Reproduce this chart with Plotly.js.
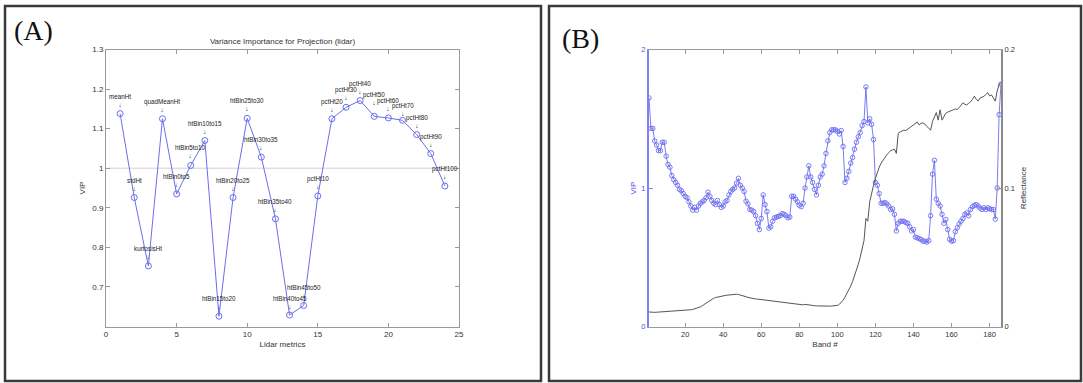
<!DOCTYPE html>
<html>
<head>
<meta charset="utf-8">
<script src="https://cdn.plot.ly/plotly-3.0.1.min.js"></script>
<style>html,body{margin:0;padding:0;background:#fff}#chart{width:1083px;height:383px}</style>
</head>
<body>
<div id="chart"></div>
<script>
// ---------- Panel (A): lidar metrics ----------
const lidarMetrics = ['meanHt','stdHt','kurtosisHt','quadMeanHt','htBin0to5','htBin5to10','htBin10to15','htBin15to20','htBin20to25','htBin25to30','htBin30to35','htBin35to40','htBin40to45','htBin45to50','pctHt10','pctHt20','pctHt30','pctHt40','pctHt50','pctHt60','pctHt70','pctHt80','pctHt90','pctHt100'];
const lidarIndex = [1,2,3,4,5,6,7,8,9,10,11,12,13,14,15,16,17,18,19,20,21,22,23,24];
const lidarVIP = [1.138,0.926,0.753,1.125,0.935,1.007,1.070,0.626,0.926,1.126,1.028,0.872,0.629,0.653,0.930,1.125,1.154,1.171,1.131,1.127,1.121,1.085,1.037,0.955];
const vipThreshold = 1;
const lidarXTicks = [0,5,10,15,20,25];
const lidarYTicks = [0.7,0.8,0.9,1.0,1.1,1.2,1.3];
const lidarYTickText = ['0.7','0.8','0.9','1','1.1','1.2','1.3'];

// ---------- Panel (B): hyperspectral bands ----------
const bands = [1,2,3,4,5,6,7,8,9,10,11,12,13,14,15,16,17,18,19,20,21,22,23,24,25,26,27,28,29,30,
31,32,33,34,35,36,37,38,39,40,41,42,43,44,45,46,47,48,49,50,51,52,53,54,55,56,57,58,59,60,
61,62,63,64,65,66,67,68,69,70,71,72,73,74,75,76,77,78,79,80,81,82,83,84,85,86,87,88,89,90,
91,92,93,94,95,96,97,98,99,100,101,102,103,104,105,106,107,108,109,110,111,112,113,114,115,116,117,118,119,120,
121,122,123,124,125,126,127,128,129,130,131,132,133,134,135,136,137,138,139,140,141,142,143,144,145,146,147,148,149,150,
151,152,153,154,155,156,157,158,159,160,161,162,163,164,165,166,167,168,169,170,171,172,173,174,175,176,177,178,179,180,
181,182,183,184,185,186];
const bandVIP = [
1.65,1.43,1.43,1.34,1.31,1.27,1.27,1.33,1.33,1.23,
1.17,1.15,1.09,1.06,1.04,1.02,0.99,0.98,0.96,0.94,
0.93,0.90,0.87,0.84,0.86,0.84,0.87,0.89,0.90,0.91,
0.93,0.97,0.94,0.91,0.89,0.88,0.91,0.88,0.86,0.87,
0.90,0.91,0.95,0.975,0.99,1.00,1.035,1.07,1.02,1.00,
0.975,0.905,0.885,0.845,0.84,0.83,0.80,0.745,0.70,0.78,
0.95,0.88,0.83,0.71,0.72,0.76,0.785,0.79,0.795,0.80,
0.815,0.81,0.80,0.785,0.79,0.94,0.94,0.92,0.90,0.875,
0.865,0.89,1.00,1.08,1.16,1.08,1.04,0.99,0.95,1.02,
1.08,1.10,1.16,1.25,1.34,1.40,1.42,1.42,1.42,1.41,
1.39,1.415,1.30,1.04,1.07,1.12,1.18,1.22,1.28,1.33,
1.37,1.40,1.45,1.48,1.73,1.47,1.50,1.46,1.35,1.04,
1.02,0.96,0.89,0.89,0.895,0.885,0.87,0.845,0.85,0.81,
0.69,0.745,0.76,0.76,0.76,0.75,0.745,0.72,0.69,0.70,
0.645,0.64,0.634,0.628,0.616,0.616,0.61,0.62,0.80,1.10,
1.20,0.92,0.89,0.87,0.81,0.745,0.773,0.70,0.63,0.616,
0.62,0.685,0.713,0.74,0.76,0.78,0.81,0.82,0.80,0.845,
0.865,0.875,0.88,0.87,0.855,0.845,0.857,0.845,0.857,0.85,
0.845,0.845,0.775,1.00,1.53,1.75];
const bandReflectance = [
0.0105,0.0103,0.0104,0.0102,0.0103,0.0104,0.0105,0.0104,0.0106,0.0107,
0.0106,0.0108,0.0109,0.0108,0.0110,0.0111,0.0110,0.0112,0.0113,0.0114,
0.0116,0.0118,0.0121,0.0123,0.0127,0.0131,0.0136,0.0142,0.0150,0.0160,
0.0170,0.0180,0.0190,0.0198,0.0204,0.0209,0.0213,0.0216,0.0219,0.0222,
0.0224,0.0226,0.0228,0.0230,0.0231,0.0232,0.0233,0.0231,0.0228,0.0224,
0.0219,0.0215,0.0210,0.0206,0.0203,0.0201,0.0199,0.0198,0.0196,0.0195,
0.0194,0.0192,0.0190,0.0189,0.0187,0.0185,0.0183,0.0181,0.0179,0.0177,
0.0175,0.0173,0.0171,0.0169,0.0167,0.0165,0.0163,0.0161,0.0160,0.0158,
0.0157,0.0156,0.0160,0.0157,0.0155,0.0153,0.0151,0.0150,0.0149,0.0148,
0.0147,0.0147,0.0146,0.0146,0.0147,0.0147,0.0148,0.0149,0.0151,0.0152,
0.0160,0.0172,0.0190,0.0212,0.0236,0.0262,0.0292,0.0325,0.0362,0.0405,
0.0450,0.0500,0.0570,0.0620,0.0780,0.0760,0.0900,0.0970,0.1020,0.1070,
0.1120,0.1150,0.1180,0.1200,0.1225,0.1240,0.1255,0.1270,0.1275,0.1280,
0.1250,0.1395,0.1405,0.1410,0.1418,0.1415,0.1425,0.1432,0.1440,0.1452,
0.1462,0.1476,0.1455,0.1468,0.1470,0.1462,0.1445,0.1430,0.1418,0.1480,
0.1520,0.1545,0.1490,0.1565,0.1490,0.1520,0.1540,0.1548,0.1552,0.1558,
0.1565,0.1570,0.1568,0.1580,0.1598,0.1615,0.1605,0.1600,0.1612,0.1622,
0.1640,0.1663,0.1640,0.1628,0.1650,0.1655,0.1662,0.1675,0.1688,0.1665,
0.1672,0.1650,0.1627,0.1700,0.1750,0.1760];
const bandXTicks = [20,40,60,80,100,120,140,160,180];
const bandVIPTicks = [0,1,2];
const reflTicks = [0,0.1,0.2];

// ---------- layout helpers (pixel -> paper) ----------
const W = 1083, H = 383;
const px = v => v / W;
const py = v => 1 - v / H;

const FONT = 'Liberation Sans, Arial, sans-serif';
const SERIF = 'Liberation Serif, Times New Roman, serif';
const BLUE = '#6c6cf0';
const AXGRAY = '#9a9a9a';
const TXT = '#333333';

// extra vertical nudge (px) for crowded labels, as in the original figure
const labelNudge = {pctHt50: 4, pctHt70: -3, htBin45to50: 1, htBin40to45: -1};

const traces = [
  {
    x: lidarIndex, y: lidarVIP, xaxis: 'x', yaxis: 'y', type: 'scatter', mode: 'lines+markers',
    line: {color: BLUE, width: 1},
    marker: {symbol: 'circle-open', size: 6, color: BLUE, line: {width: 1}},
    hoverinfo: 'x+y', showlegend: false
  },
  {
    x: bands, y: bandReflectance, xaxis: 'x2', yaxis: 'y3', type: 'scatter', mode: 'lines',
    line: {color: '#555555', width: 1}, showlegend: false
  },
  {
    x: bands, y: bandVIP, xaxis: 'x2', yaxis: 'y2', type: 'scatter', mode: 'lines+markers',
    line: {color: BLUE, width: 0.9},
    marker: {symbol: 'circle-open', size: 4.5, color: BLUE, line: {width: 0.9}},
    showlegend: false
  }
];

const annotations = lidarMetrics.map((name, i) => ({
  x: lidarIndex[i], y: lidarVIP[i], xref: 'x', yref: 'y',
  text: name + '<br>↓', showarrow: false, yanchor: 'bottom', xanchor: 'center',
  yshift: 5 + (labelNudge[name] || 0), borderpad: 0,
  font: {family: FONT, size: 6.3, color: '#222'}
}));

annotations.push(
  {x: px(12), y: py(31), xref: 'paper', yref: 'paper', text: '(A)', showarrow: false,
   xanchor: 'left', yanchor: 'middle', font: {family: SERIF, size: 28, color: '#111'}},
  {x: px(560), y: py(38), xref: 'paper', yref: 'paper', text: '(B)', showarrow: false,
   xanchor: 'left', yanchor: 'middle', font: {family: SERIF, size: 28, color: '#111'}}
);

const frame = (x0, x1) => ({
  type: 'rect', xref: 'paper', yref: 'paper',
  x0: px(x0), x1: px(x1), y0: py(381), y1: py(6),
  line: {color: '#3a3a3a', width: 2.5}, fillcolor: 'rgba(0,0,0,0)'
});

const baseAxis = {
  showgrid: false, zeroline: false, showline: true, linecolor: AXGRAY, linewidth: 1,
  ticks: 'inside', ticklen: 4, tickcolor: AXGRAY,
  tickfont: {family: FONT, size: 8, color: TXT}
};

const layout = {
  width: W, height: H, autosize: false,
  margin: {l: 0, r: 0, t: 0, b: 0},
  paper_bgcolor: '#fff', plot_bgcolor: '#fff',
  font: {family: FONT, color: TXT},
  title: {
    text: 'Variance Importance for Projection (lidar)',
    x: px(282.5), y: py(41), xref: 'paper', yref: 'paper',
    xanchor: 'center', yanchor: 'middle',
    font: {family: FONT, size: 8, color: TXT}
  },
  xaxis: Object.assign({}, baseAxis, {
    domain: [px(106), px(459)], range: [0, 25], anchor: 'y',
    tickvals: lidarXTicks, mirror: 'ticks',
    title: {text: 'Lidar metrics', standoff: 3, font: {family: FONT, size: 8, color: TXT}}
  }),
  yaxis: Object.assign({}, baseAxis, {
    domain: [py(326.5), py(49.5)], range: [0.6, 1.3], anchor: 'x',
    tickvals: lidarYTicks, ticktext: lidarYTickText, mirror: 'ticks',
    title: {text: 'VIP', standoff: 5, font: {family: FONT, size: 8, color: TXT}}
  }),
  xaxis2: Object.assign({}, baseAxis, {
    domain: [px(649), px(1001)], range: [1, 186], anchor: 'y2',
    tickvals: bandXTicks, mirror: 'ticks',
    tickfont: {family: FONT, size: 7.5, color: TXT},
    title: {text: 'Band #', standoff: 3, font: {family: FONT, size: 8, color: TXT}}
  }),
  yaxis2: Object.assign({}, baseAxis, {
    domain: [py(326.5), py(49.5)], range: [0, 2], anchor: 'x2',
    tickvals: bandVIPTicks, linecolor: '#8080f0', linewidth: 2, tickcolor: '#8080f0',
    tickfont: {family: FONT, size: 7.5, color: '#5050e8'},
    title: {text: 'VIP', standoff: 4, font: {family: FONT, size: 8, color: '#5050e8'}}
  }),
  yaxis3: Object.assign({}, baseAxis, {
    range: [0, 0.2], anchor: 'x2', overlaying: 'y2', side: 'right',
    tickvals: reflTicks, linecolor: '#8a8a8a', linewidth: 2,
    tickfont: {family: FONT, size: 7.5, color: TXT},
    title: {text: 'Reflectance', standoff: 6, font: {family: FONT, size: 8, color: TXT}}
  }),
  shapes: [
    frame(5, 541),
    frame(549, 1081),
    {type: 'line', xref: 'x', yref: 'y', x0: 0, x1: 25, y0: vipThreshold, y1: vipThreshold,
     line: {color: '#d0d0d0', width: 1}, layer: 'below'}
  ],
  annotations: annotations
};

Plotly.newPlot('chart', traces, layout, {displayModeBar: false, staticPlot: true});
</script>
</body>
</html>
